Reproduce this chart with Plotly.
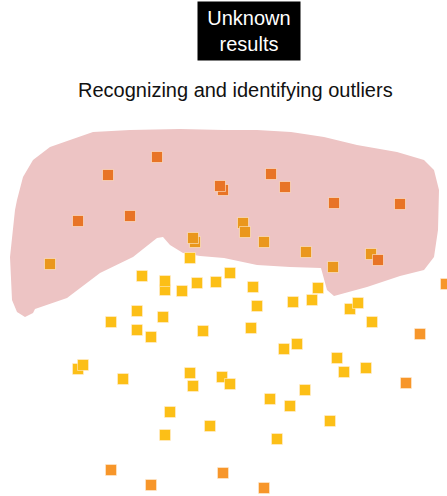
import plotly.graph_objects as go

# ---- data (chart units) ----
dark_x = [157, 108, 223, 220, 130, 78, 271, 285, 334, 400]
dark_y = [157, 175, 190, 186, 216, 221, 174, 187, 203, 204]

orange_x = [50, 195, 193, 243, 245, 264, 306, 371, 333]
orange_y = [264, 242, 238, 223, 232, 242, 252, 254, 267]

dark2_x = [378]
dark2_y = [260]

yellow_x = [190, 142, 165, 165, 182, 197, 216, 230, 253, 318, 137, 163, 111, 137,
            151, 203, 78, 83, 123, 190, 193, 222, 230, 170, 210, 165, 257, 293,
            312, 350, 358, 372, 251, 284, 297, 337, 344, 366, 305, 270, 290, 330, 277]
yellow_y = [258, 276, 290, 281, 291, 283, 282, 273, 287, 288, 311, 317, 322, 330,
            337, 331, 369, 365, 379, 373, 386, 377, 384, 412, 426, 435, 306, 302,
            300, 309, 303, 322, 328, 349, 344, 358, 372, 368, 390, 399, 406, 421, 439]

outlier_x = [111, 151, 223, 264, 420, 406, 446]
outlier_y = [470, 485, 473, 488, 334, 383, 284]

blob_x = [50, 70, 93, 130, 180, 224, 257, 291, 324, 357, 397, 424, 434, 439, 438, 434,
          424, 400, 367, 345, 334, 327, 321, 290, 257, 224, 200, 183, 170, 163, 157,
          133, 100, 67, 35, 33, 25, 17, 12, 10, 15, 17, 23, 33]
blob_y = [147, 140, 132, 130, 129, 130, 130, 132, 137, 145, 152, 160, 170, 190, 230, 257,
          270, 276, 287, 293, 296, 290, 268, 267, 265, 258, 256, 253, 245, 237, 238,
          257, 273, 298, 309, 313, 317, 312, 300, 257, 210, 200, 177, 160]

title_text = "Unknown<br>results"
subtitle_text = "Recognizing and identifying outliers"

# ---- figure ----
fig = go.Figure()

path = "M " + " L ".join(f"{x},{y}" for x, y in zip(blob_x, blob_y)) + " Z"
fig.add_shape(type="path", path=path, xref="x", yref="y",
              fillcolor="#EDC4C4", line=dict(width=0), layer="below")

def add_pts(xs, ys, color):
    fig.add_trace(go.Scatter(
        x=xs, y=ys, mode="markers", hoverinfo="skip", showlegend=False,
        marker=dict(symbol="square", size=11, color=color,
                    line=dict(width=1, color="rgba(255,240,220,0.55)"))))

add_pts(yellow_x, yellow_y, "#FCBF17")
add_pts(orange_x, orange_y, "#EA971D")
add_pts(dark_x, dark_y, "#E87426")
add_pts(dark2_x, dark2_y, "#E87426")
add_pts(outlier_x, outlier_y, "#F7962A")

fig.add_annotation(x=249, y=31, xref="x", yref="y", text=title_text,
                   showarrow=False, bgcolor="black", width=100, height=56,
                   font=dict(family="Arial, Liberation Sans, sans-serif", size=20, color="white"))
fig.add_annotation(x=235, y=90, xref="x", yref="y", text=subtitle_text,
                   showarrow=False,
                   font=dict(family="Arial, Liberation Sans, sans-serif", size=20, color="#111111"))

fig.update_layout(
    width=447, height=496, margin=dict(l=0, r=0, t=0, b=0),
    paper_bgcolor="white", plot_bgcolor="white",
    xaxis=dict(range=[0, 447], visible=False, fixedrange=True),
    yaxis=dict(range=[496, 0], visible=False, fixedrange=True),
)

fig.write_html("out.html", config={"displayModeBar": False},
               post_script="document.body.style.margin='0';document.body.style.overflow='hidden';")
